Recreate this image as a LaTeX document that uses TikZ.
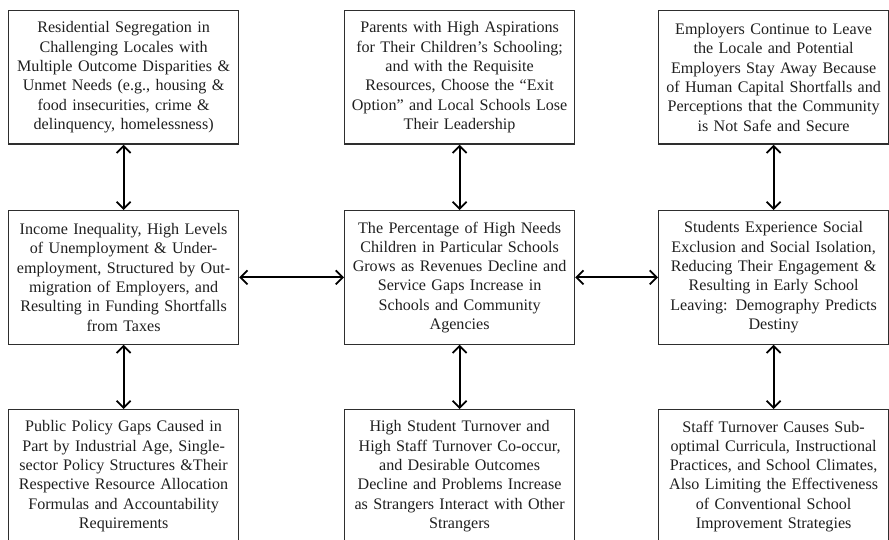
\documentclass[tikz,border=0pt]{standalone}
\usepackage{fontspec}
\setmainfont{Liberation Serif}
\usetikzlibrary{arrows.meta}
\definecolor{ink}{rgb}{0.12,0.12,0.12}
\definecolor{frame}{rgb}{0.18,0.18,0.18}
\tikzset{
  box/.style={draw=frame, line width=1.2pt, rectangle, anchor=north west,
    minimum width=230pt, minimum height=133.5pt, text width=226pt,
    inner sep=0pt, align=center, text=ink,
    font=\fontsize{16.1}{19.3}\selectfont},
  barb/.tip={Straight Barb[length=7pt,width=14pt,line width=1.8pt]},
  link/.style={line width=2pt, black, {barb}-{barb}}
}
\begin{document}
\begin{tikzpicture}[x=1pt,y=-1pt]
\useasboundingbox (0,0) rectangle (889,540);

% top row
\node[box] (tl) at (8,10) {Residential Segregation in\\Challenging Locales with\\Multiple Outcome Disparities \&\\Unmet Needs (e.g., housing \&\\food insecurities, crime \&\\delinquency, homelessness)};
\node[box] (tm) at (344,10) {Parents with High Aspirations\\for Their Children’s Schooling;\\and with the Requisite\\Resources, Choose the “Exit\\Option” and Local Schools Lose\\Their Leadership};
\node[box] (tr) at (658,10) {Employers Continue to Leave\\the Locale and Potential\\Employers Stay Away Because\\of Human Capital Shortfalls and\\Perceptions that the Community\\is Not Safe and Secure};

% middle row
\node[box] (ml) at (8,210) {Income Inequality, High Levels\\of Unemployment \& Under-\\employment, Structured by Out-\\migration of Employers, and\\Resulting in Funding Shortfalls\\from Taxes};
\node[box] (mm) at (344,210) {The Percentage of High Needs\\Children in Particular Schools\\Grows as Revenues Decline and\\Service Gaps Increase in\\Schools and Community\\Agencies};
\node[box] (mr) at (658,210) {Students Experience Social\\Exclusion and Social Isolation,\\Reducing Their Engagement \&\\Resulting in Early School\\Leaving: Demography Predicts\\Destiny};

% bottom row
\node[box] (bl) at (8,409) {Public Policy Gaps Caused in\\Part by Industrial Age, Single-\\sector Policy Structures \&Their\\Respective Resource Allocation\\Formulas and Accountability\\Requirements};
\node[box] (bm) at (344,409) {High Student Turnover and\\High Staff Turnover Co-occur,\\and Desirable Outcomes\\Decline and Problems Increase\\as Strangers Interact with Other\\Strangers};
\node[box] (br) at (658,409) {Staff Turnover Causes Sub-\\optimal Curricula, Instructional\\Practices, and School Climates,\\Also Limiting the Effectiveness\\of Conventional School\\Improvement Strategies};

% two-way links
\draw[link] (tl.south) -- (ml.north);
\draw[link] (ml.south) -- (bl.north);
\draw[link] (tm.south) -- (mm.north);
\draw[link] (mm.south) -- (bm.north);
\draw[link] (tr.south) -- (mr.north);
\draw[link] (mr.south) -- (br.north);
\draw[link] (ml.east) -- (mm.west);
\draw[link] (mm.east) -- (mr.west);
\end{tikzpicture}
\end{document}
